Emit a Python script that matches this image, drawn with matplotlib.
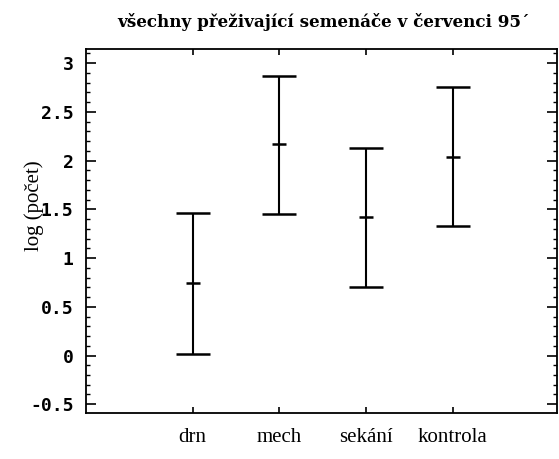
import numpy as np
import matplotlib.pyplot as plt
from matplotlib.ticker import MultipleLocator

categories = ['drn', 'mech', 'sekání', 'kontrola']
means = [0.74, 2.17, 1.42, 2.04]
lower = [0.02, 1.45, 0.70, 1.33]
upper = [1.46, 2.87, 2.13, 2.76]

x = np.arange(1, len(categories) + 1)
means = np.array(means)
yerr = np.vstack([means - np.array(lower), np.array(upper) - means])

fig = plt.figure(figsize=(5.59, 4.59), dpi=100)
ax = fig.add_axes([86 / 559, 1 - 413 / 459, (557 - 86) / 559, (413 - 49) / 459])

ax.errorbar(x, means, yerr=yerr, fmt='none', ecolor='black', elinewidth=1.5,
            capsize=12, capthick=1.8)
ax.plot(x, means, linestyle='none', marker='_', markersize=10, markeredgewidth=1.8, color='black')

ax.set_xlim(-0.23, 5.2)
ax.set_ylim(-0.59, 3.145)
ax.set_xticks(x)
ax.set_xticklabels(categories, fontfamily='Liberation Serif', fontsize=15)
ax.set_yticks([-0.5, 0, 0.5, 1, 1.5, 2, 2.5, 3])
ax.set_yticklabels(['-0.5', '0', '0.5', '1', '1.5', '2', '2.5', '3'],
                   fontfamily='DejaVu Sans Mono', fontweight='bold', fontsize=13)
ax.yaxis.set_minor_locator(MultipleLocator(0.1))
ax.tick_params(axis='y', which='major', direction='in', length=7, width=1.2, left=True, right=True, pad=9)
ax.tick_params(axis='y', which='minor', direction='in', length=3, width=1, left=True, right=True)
ax.tick_params(axis='x', which='major', direction='in', length=4, width=1.2, top=True, bottom=True, pad=11)
for s in ax.spines.values():
    s.set_linewidth(1.3)

ax.set_ylabel('log (počet)', fontfamily='Liberation Serif', fontsize=15)
ax.yaxis.set_label_coords(-0.09, 0.57)
fig.text(323 / 559, 1 - 22 / 459, 'všechny přeživající semenáče v červenci 95´',
         ha='center', va='center', fontfamily='DejaVu Serif', fontweight='bold', fontsize=12.1)

fig.savefig('out.png', dpi=100)
